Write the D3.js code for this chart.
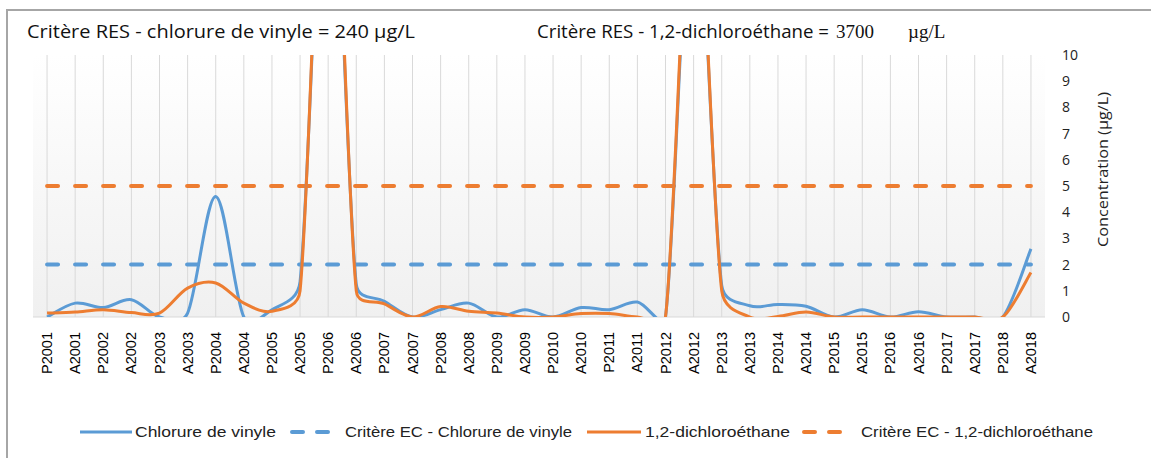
<!DOCTYPE html>
<html>
<head>
<meta charset="utf-8">
<script src="https://cdn.jsdelivr.net/npm/d3@7"></script>
<style>
  body { margin: 0; background: #fff; }
  svg { display: block; }
</style>
</head>
<body>
<div id="chart"></div>
<script>
// categories (P = printemps, A = automne)
const categories = [
  "P2001", "A2001", "P2002", "A2002", "P2003", "A2003", "P2004", "A2004", "P2005", "A2005",
  "P2006", "A2006", "P2007", "A2007", "P2008", "A2008", "P2009", "A2009", "P2010", "A2010",
  "P2011", "A2011", "P2012", "A2012", "P2013", "A2013", "P2014", "A2014", "P2015", "A2015",
  "P2016", "A2016", "P2017", "A2017", "P2018", "A2018"
];

const chlorureVinyle = [
  0, 0.53, 0.36, 0.66, 0, 0.15, 4.6, 0, 0.28, 1.35,
  20, 1.25, 0.6, 0, 0.28, 0.53, 0, 0.28, 0, 0.36,
  0.28, 0.57, 0, 17, 1.2, 0.43, 0.48, 0.41, 0, 0.28,
  0, 0.2, 0, 0, 0, 2.6
];

const dichloroethane = [
  0.15, 0.19, 0.28, 0.17, 0.15, 1.1, 1.3, 0.53, 0.22, 1.0,
  21, 1.0, 0.5, 0, 0.4, 0.22, 0.15, 0, 0, 0.13,
  0.13, 0, 0, 17.5, 1.0, 0, 0.02, 0.19, 0, 0,
  0, 0, 0, 0, 0, 1.7
];

// critères EC (constant lines)
const critereChlorure = 2;
const critereDichloro = 5;

const yTicks = [0, 1, 2, 3, 4, 5, 6, 7, 8, 9, 10];

const blue = "#5b9bd5", orange = "#ed7d31";

const W = 1151, H = 458;
const plot = {left: 33, right: 1045, top: 55, bottom: 317};

const svg = d3.select("#chart").append("svg")
  .attr("width", W)
  .attr("height", H);

// outer frame
svg.append("rect")
  .attr("x", 7).attr("y", 10)
  .attr("width", W + 10).attr("height", H + 10)
  .attr("fill", "#fff")
  .attr("stroke", "#a6a6a6")
  .attr("stroke-width", 2);

const defs = svg.append("defs");
const grad = defs.append("linearGradient")
  .attr("id", "bg").attr("x1", 0).attr("y1", 0).attr("x2", 0).attr("y2", 1);
grad.append("stop").attr("offset", "0%").attr("stop-color", "#ffffff");
grad.append("stop").attr("offset", "100%").attr("stop-color", "#f0f0f0");

defs.append("clipPath").attr("id", "clip")
  .append("rect")
  .attr("x", plot.left).attr("y", plot.top)
  .attr("width", plot.right - plot.left)
  .attr("height", plot.bottom - plot.top);

const x = d3.scaleBand()
  .domain(categories)
  .range([plot.left, plot.right])
  .padding(0);
const cx = d => x(d) + x.bandwidth() / 2;

const y = d3.scaleLinear()
  .domain([0, 10])
  .range([plot.bottom, plot.top]);

// plot area background
svg.append("rect")
  .attr("x", plot.left).attr("y", plot.top)
  .attr("width", plot.right - plot.left)
  .attr("height", plot.bottom - plot.top)
  .attr("fill", "url(#bg)");

// vertical gridlines
svg.append("g")
  .selectAll("line")
  .data(categories)
  .enter()
  .append("line")
  .attr("x1", d => cx(d)).attr("x2", d => cx(d))
  .attr("y1", plot.top).attr("y2", plot.bottom)
  .attr("stroke", "#d9d9d9")
  .attr("stroke-width", 1);

// baseline
svg.append("line")
  .attr("x1", plot.left).attr("x2", plot.right)
  .attr("y1", y(0)).attr("y2", y(0))
  .attr("stroke", "#d9d9d9");

// x axis labels
const xAxis = d3.axisBottom(x).tickSize(0);
const gx = svg.append("g")
  .attr("transform", `translate(0,${plot.bottom})`)
  .call(xAxis);
gx.select(".domain").remove();
gx.selectAll("text")
  .attr("transform", "rotate(-90)")
  .attr("x", -15)
  .attr("y", 0)
  .attr("dy", "0.35em")
  .attr("text-anchor", "end")
  .style("font-family", "'Liberation Sans', Arial, sans-serif")
  .style("font-size", "14.5px")
  .style("fill", "#000");

// right y axis
const yAxis = d3.axisRight(y).tickValues(yTicks).tickSize(0);
const gy = svg.append("g")
  .attr("transform", `translate(${plot.right},0)`)
  .call(yAxis);
gy.select(".domain").remove();
gy.selectAll("text")
  .attr("x", 17)
  .style("font-family", "'Open Sans', 'Noto Sans', sans-serif")
  .style("font-size", "14px")
  .style("fill", "#222");

svg.append("text")
  .attr("transform", `translate(1108,${(92 + 247) / 2}) rotate(-90)`)
  .attr("text-anchor", "middle")
  .style("font-family", "'Open Sans', 'Noto Sans', sans-serif")
  .style("font-size", "14px")
  .style("fill", "#222")
  .attr("textLength", 155)
  .attr("lengthAdjust", "spacingAndGlyphs")
  .text("Concentration (µg/L)");

// Excel-like smoothed line: bezier with 1/6 tangents, capped at half the segment length
function smoothPath(values) {
  const pts = values.map((v, i) => [cx(categories[i]), y(v)]);
  const n = pts.length;
  let d = `M${pts[0][0]},${pts[0][1]}`;
  const cap = (vx, vy, lim) => {
    const len = Math.hypot(vx, vy);
    if (len > lim && len > 0) return [vx * lim / len, vy * lim / len];
    return [vx, vy];
  };
  for (let i = 0; i < n - 1; i++) {
    const p0 = pts[Math.max(i - 1, 0)], p1 = pts[i], p2 = pts[i + 1], p3 = pts[Math.min(i + 2, n - 1)];
    const half = Math.hypot(p2[0] - p1[0], p2[1] - p1[1]) / 2;
    const v1 = cap((p2[0] - p0[0]) / 6, (p2[1] - p0[1]) / 6, half);
    const v2 = cap((p3[0] - p1[0]) / 6, (p3[1] - p1[1]) / 6, half);
    d += `C${p1[0] + v1[0]},${p1[1] + v1[1]} ${p2[0] - v2[0]},${p2[1] - v2[1]} ${p2[0]},${p2[1]}`;
  }
  return d;
}

const series = svg.append("g").attr("clip-path", "url(#clip)");

const straight = d3.line()
  .x((d, i) => cx(categories[i]))
  .y(d => y(d));

// critère lines
series.append("path")
  .datum(categories.map(() => critereChlorure))
  .attr("d", straight)
  .attr("fill", "none")
  .attr("stroke", blue)
  .attr("stroke-width", 4)
  .attr("stroke-linecap", "round")
  .attr("stroke-dasharray", "11,17");

series.append("path")
  .datum(categories.map(() => critereDichloro))
  .attr("d", straight)
  .attr("fill", "none")
  .attr("stroke", orange)
  .attr("stroke-width", 4)
  .attr("stroke-linecap", "round")
  .attr("stroke-dasharray", "11,17");

series.append("path")
  .datum(chlorureVinyle)
  .attr("d", smoothPath)
  .attr("fill", "none")
  .attr("stroke", blue)
  .attr("stroke-width", 3)
  .attr("stroke-linejoin", "round");

series.append("path")
  .datum(dichloroethane)
  .attr("d", smoothPath)
  .attr("fill", "none")
  .attr("stroke", orange)
  .attr("stroke-width", 3)
  .attr("stroke-linejoin", "round");

// titles
const titleFont = "'Open Sans', 'Noto Sans', sans-serif";
svg.append("text")
  .attr("x", 27).attr("y", 38)
  .style("font-family", titleFont)
  .style("font-size", "18px")
  .style("fill", "#111")
  .attr("textLength", 388)
  .attr("lengthAdjust", "spacingAndGlyphs")
  .text("Critère RES - chlorure de vinyle = 240 µg/L");

svg.append("text")
  .attr("x", 537).attr("y", 38)
  .style("font-family", titleFont)
  .style("font-size", "18px")
  .style("fill", "#111")
  .attr("textLength", 292)
  .attr("lengthAdjust", "spacingAndGlyphs")
  .text("Critère RES - 1,2-dichloroéthane =");

const serifTitle = svg.append("text")
  .attr("y", 38)
  .style("font-family", "'Liberation Serif', 'Times New Roman', serif")
  .style("font-size", "19px")
  .style("fill", "#111");
serifTitle.append("tspan").attr("x", 836).text("3700");
serifTitle.append("tspan").attr("x", 908).text("µg/L");

// legend
const legendY = 432;
const legendFont = "'Liberation Sans Narrow', 'Liberation Sans', sans-serif";
const legendItems = [
  {label: "Chlorure de vinyle", color: blue, dashed: false, x0: 80, x1: 132, tx: 135, tw: 141},
  {label: "Critère EC - Chlorure de vinyle", color: blue, dashed: true, x0: 290, x1: 332, tx: 345, tw: 227},
  {label: "1,2-dichloroéthane", color: orange, dashed: false, x0: 587, x1: 641, tx: 645, tw: 145},
  {label: "Critère EC - 1,2-dichloroéthane", color: orange, dashed: true, x0: 802, x1: 844, tx: 861, tw: 232}
];

const lg = svg.append("g")
  .selectAll("g")
  .data(legendItems)
  .enter()
  .append("g");

lg.filter(d => !d.dashed)
  .append("line")
  .attr("x1", d => d.x0).attr("x2", d => d.x1)
  .attr("y1", legendY).attr("y2", legendY)
  .attr("stroke", d => d.color)
  .attr("stroke-width", 3);

lg.filter(d => d.dashed)
  .append("line")
  .attr("x1", d => d.x0 + 2).attr("x2", d => d.x1)
  .attr("y1", legendY).attr("y2", legendY)
  .attr("stroke", d => d.color)
  .attr("stroke-width", 4)
  .attr("stroke-linecap", "round")
  .attr("stroke-dasharray", "11,14");

lg.append("text")
  .attr("x", d => d.tx)
  .attr("y", legendY)
  .attr("dy", "0.35em")
  .style("font-family", legendFont)
  .style("font-size", "15px")
  .style("fill", "#222")
  .attr("textLength", d => d.tw)
  .attr("lengthAdjust", "spacingAndGlyphs")
  .text(d => d.label);
</script>
</body>
</html>
